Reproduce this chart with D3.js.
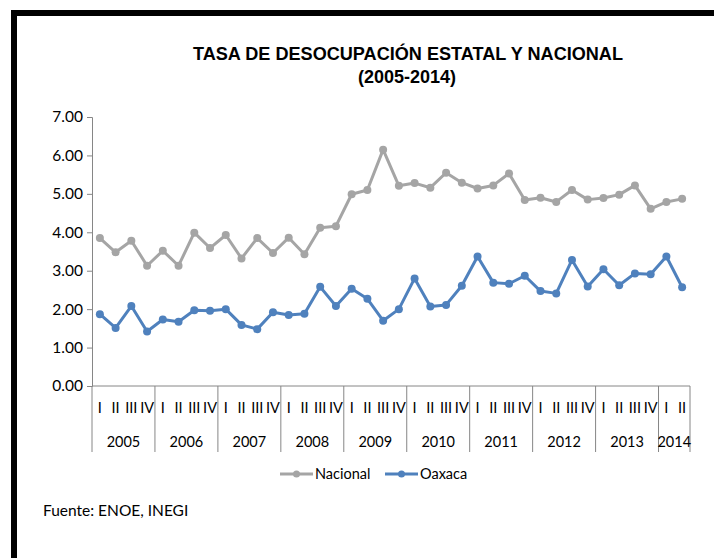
<!DOCTYPE html>
<html>
<head>
<meta charset="utf-8">
<script src="https://cdn.jsdelivr.net/npm/d3@7"></script>
<style>
  body { margin: 0; background: #fff; }
  svg { display: block; }
</style>
</head>
<body>
<div id="chart"></div>
<script>
const years = ['2005', '2006', '2007', '2008', '2009', '2010', '2011', '2012', '2013', '2014'];
const quarters = ['I', 'II', 'III', 'IV'];
const yTicks = [0, 1, 2, 3, 4, 5, 6, 7];

// Tasa de desocupación, por trimestre (2005-I a 2014-II)
const nacional = [
    3.85, 3.48, 3.78, 3.13, 3.52, 3.13, 3.99, 3.59, 3.93, 3.32,
    3.85, 3.46, 3.86, 3.43, 4.12, 4.16, 4.99, 5.10, 6.15, 5.21,
    5.28, 5.16, 5.55, 5.29, 5.14, 5.22, 5.53, 4.84, 4.90, 4.79,
    5.10, 4.85, 4.89, 4.98, 5.22, 4.61, 4.79, 4.87
];
const oaxaca = [
    1.87, 1.51, 2.08, 1.42, 1.73, 1.67, 1.97, 1.96, 2.00, 1.59,
    1.48, 1.92, 1.85, 1.88, 2.58, 2.08, 2.53, 2.27, 1.70, 2.00,
    2.80, 2.07, 2.11, 2.61, 3.37, 2.69, 2.66, 2.87, 2.47, 2.41,
    3.28, 2.59, 3.04, 2.62, 2.93, 2.91, 3.37, 2.57
];

const width = 714;
const height = 558;
const margin = { top: 117, right: 24, bottom: 172, left: 92 };

const series = [
    { name: 'Nacional', values: nacional, color: '#A5A5A5' },
    { name: 'Oaxaca', values: oaxaca, color: '#4F81BD' }
];

// periods: one per quarter, trimmed to the data length
const periods = years.flatMap(y => quarters.map(q => ({ year: y, q: q })))
    .slice(0, nacional.length)
    .map((d, i) => ({ ...d, key: d.year + '-' + d.q, i: i }));

const svg = d3.select('#chart')
    .append('svg')
    .attr('width', width)
    .attr('height', height);

// black frame (top and left edges)
svg.append('rect').attr('x', 11).attr('y', 10).attr('width', width - 11).attr('height', 6).attr('fill', '#000');
svg.append('rect').attr('x', 11).attr('y', 10).attr('width', 6).attr('height', height - 10).attr('fill', '#000');

const x = d3.scaleBand()
    .domain(periods.map(d => d.key))
    .range([margin.left, width - margin.right])
    .padding(0);

const y = d3.scaleLinear()
    .domain([0, 7])
    .range([height - margin.bottom, margin.top]);

const labelFont = 'Lato, "Open Sans", sans-serif';
const axisColor = '#868686';

// title
const title = svg.append('g')
    .attr('font-family', '"Liberation Sans Narrow", "Arial Narrow", "Liberation Sans", sans-serif')
    .attr('font-weight', 'bold')
    .attr('font-size', 18)
    .attr('text-anchor', 'middle')
    .attr('fill', '#000');
title.append('text')
    .attr('x', 408).attr('y', 60)
    .attr('textLength', 430).attr('lengthAdjust', 'spacingAndGlyphs')
    .text('TASA DE DESOCUPACIÓN ESTATAL Y NACIONAL');
title.append('text')
    .attr('x', 407).attr('y', 83)
    .text('(2005-2014)');

// y axis
const yAxis = svg.append('g')
    .attr('transform', `translate(${margin.left},0)`)
    .call(d3.axisLeft(y).tickValues(yTicks).tickFormat(d3.format('.2f')).tickSize(5).tickPadding(4));
yAxis.select('.domain').attr('stroke', axisColor);
yAxis.selectAll('.tick line').attr('stroke', axisColor);
yAxis.selectAll('.tick text')
    .attr('font-family', labelFont)
    .attr('font-size', 15.5)
    .attr('fill', '#000');

// x axis baseline
const y0 = y(0);
const axisBottom = y0 + 66;
svg.append('line')
    .attr('x1', margin.left).attr('x2', width - margin.right)
    .attr('y1', y0).attr('y2', y0)
    .attr('stroke', axisColor);

// year groups
const yearGroups = d3.groups(periods, d => d.year);
const edges = yearGroups.map(([yr, ps]) => x(ps[0].key));
edges.push(x(periods[periods.length - 1].key) + x.bandwidth());

svg.append('g')
    .selectAll('line')
    .data(edges)
    .join('line')
    .attr('x1', d => d).attr('x2', d => d)
    .attr('y1', y0).attr('y2', axisBottom)
    .attr('stroke', axisColor);

// quarter labels
svg.append('g')
    .attr('font-family', labelFont)
    .attr('font-size', 14.5)
    .attr('text-anchor', 'middle')
    .selectAll('text')
    .data(periods)
    .join('text')
    .attr('x', d => x(d.key) + x.bandwidth() / 2)
    .attr('y', y0 + 27)
    .text(d => d.q);

// year labels
svg.append('g')
    .attr('font-family', labelFont)
    .attr('font-size', 14.5)
    .attr('text-anchor', 'middle')
    .selectAll('text')
    .data(yearGroups)
    .join('text')
    .attr('x', ([yr, ps]) => (x(ps[0].key) + x(ps[ps.length - 1].key) + x.bandwidth()) / 2)
    .attr('y', y0 + 61)
    .text(([yr]) => yr);

// lines
const line = d3.line()
    .x((d, i) => x(periods[i].key) + x.bandwidth() / 2)
    .y(d => y(d));

series.forEach(s => {
    const g = svg.append('g');
    g.append('path')
        .datum(s.values)
        .attr('d', line)
        .attr('fill', 'none')
        .attr('stroke', s.color)
        .attr('stroke-width', 3)
        .attr('stroke-linejoin', 'round');
    g.selectAll('circle')
        .data(s.values)
        .join('circle')
        .attr('cx', (d, i) => x(periods[i].key) + x.bandwidth() / 2)
        .attr('cy', d => y(d))
        .attr('r', 4)
        .attr('fill', s.color);
});

// legend
const legendItems = [
    { s: series[0], x: 280 },
    { s: series[1], x: 385 }
];
const legend = svg.append('g')
    .attr('font-family', labelFont)
    .attr('font-size', 14.5);
legendItems.forEach(item => {
    const g = legend.append('g').attr('transform', `translate(${item.x},474)`);
    g.append('line')
        .attr('x1', 0).attr('x2', 33).attr('y1', 0).attr('y2', 0)
        .attr('stroke', item.s.color).attr('stroke-width', 3);
    g.append('circle').attr('cx', 16.5).attr('cy', 0).attr('r', 3.5).attr('fill', item.s.color);
    g.append('text')
        .attr('x', 35).attr('y', 5)
        .text(item.s.name);
});

// source
svg.append('text')
    .attr('x', 43).attr('y', 516)
    .attr('font-family', labelFont)
    .attr('font-size', 15.5)
    .text('Fuente: ENOE, INEGI');
</script>
</body>
</html>
